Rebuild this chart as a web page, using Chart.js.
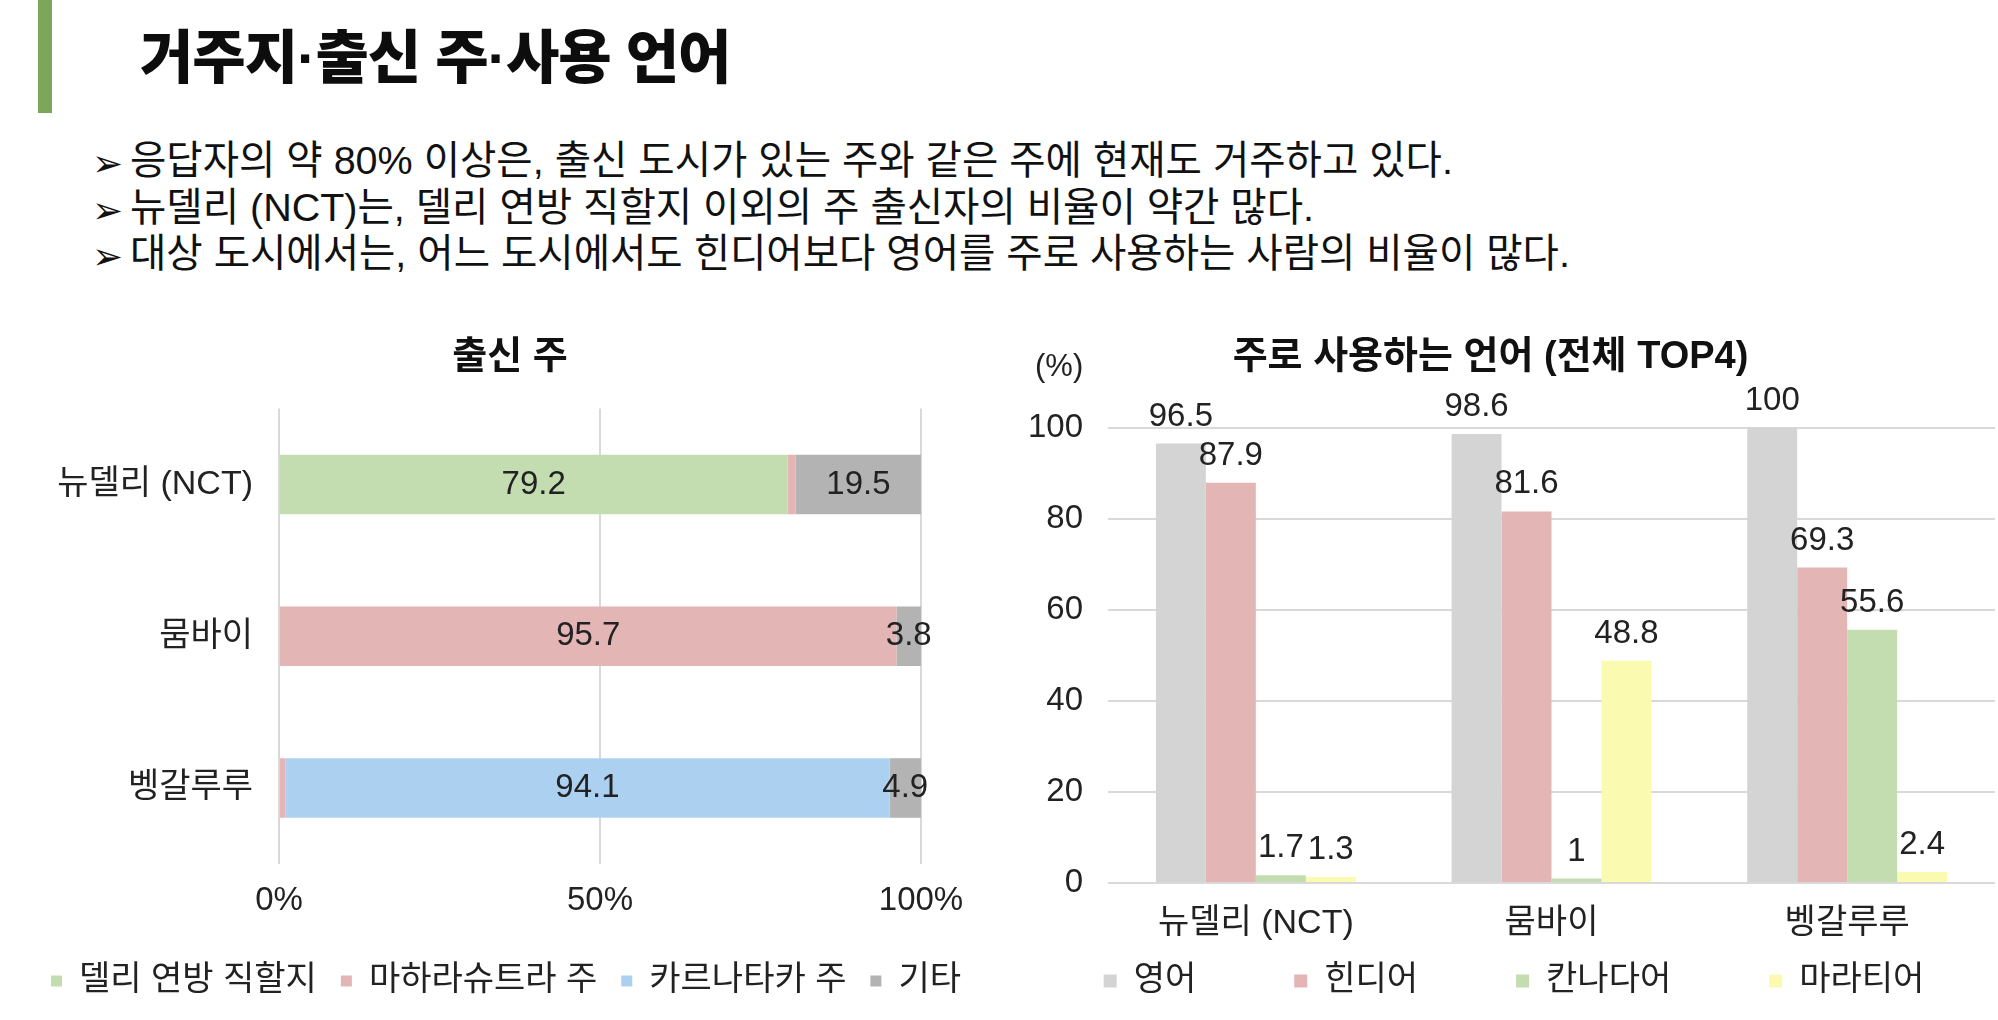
<!DOCTYPE html>
<html lang="ko">
<head>
<meta charset="utf-8">
<title>거주지·출신 주·사용 언어</title>
<script src="https://cdn.jsdelivr.net/npm/chart.js@4.4.1/dist/chart.umd.min.js"></script>
<style>
  html, body { margin:0; padding:0; background:#ffffff; }
  body { width:1998px; height:1020px; position:relative; overflow:hidden;
         font-family:'Liberation Sans','Noto Sans CJK KR',sans-serif; color:#111; }
  #accent { position:absolute; left:38px; top:0; width:14px; height:113px; background:#7da65a; }
  #pageTitle { position:absolute; left:140px; top:24px; margin:0; font-size:58px; line-height:68px;
               font-weight:900; letter-spacing:-1px; white-space:nowrap; color:#0d0d0d; }
  #notes { position:absolute; left:92px; top:137px; margin:0; padding:0; list-style:none;
           font-size:39.5px; line-height:46.5px; white-space:nowrap; color:#111; }
  #notes li::before { content:'➢'; display:inline-block; width:38px; font-family:'DejaVu Sans';
                      font-weight:bold; font-size:37px; line-height:0; vertical-align:-2px; }
  .chartBox { position:absolute; }
  #unit { position:absolute; left:1035px; top:348px; font-size:31px; line-height:36px; color:#222; }
</style>
</head>
<body>
<div id="accent"></div>
<h1 id="pageTitle">거주지·출신 주·사용 언어</h1>
<ul id="notes">
  <li>응답자의 약 80% 이상은, 출신 도시가 있는 주와 같은 주에 현재도 거주하고 있다.</li>
  <li>뉴델리 (NCT)는, 델리 연방 직할지 이외의 주 출신자의 비율이 약간 많다.</li>
  <li>대상 도시에서는, 어느 도시에서도 힌디어보다 영어를 주로 사용하는 사람의 비율이 많다.</li>
</ul>
<div class="chartBox" style="left:0px;top:300px;width:1020px;height:720px"><canvas id="originChart"></canvas></div>
<div class="chartBox" style="left:986px;top:300px;width:1012px;height:720px"><canvas id="langChart"></canvas></div>
<div id="unit">(%)</div>

<script>
// ---------- data: 출신 주 ----------
const originCities = ['뉴델리 (NCT)', '뭄바이', '벵갈루루'];
const originStates = ['델리 연방 직할지', '마하라슈트라 주', '카르나타카 주', '기타'];
const originDelhi  = [79.2, 0, 0];
const originMaha   = [1.3, 95.7, 1.0];
const originKarna  = [0, 0, 94.1];
const originOther  = [19.5, 3.8, 4.9];
const originTicks  = ['0%', '50%', '100%'];

// ---------- data: 주로 사용하는 언어 ----------
const langCities  = ['뉴델리 (NCT)', '뭄바이', '벵갈루루'];
const languages   = ['영어', '힌디어', '칸나다어', '마라티어'];
const langEnglish = [96.5, 98.6, 100];
const langHindi   = [87.9, 81.6, 69.3];
const langKannada = [1.7, 1, 55.6];
const langMarathi = [1.3, 48.8, 2.4];
const langTicks   = ['0', '20', '40', '60', '80', '100'];

const FONT = "'Liberation Sans','Noto Sans CJK KR',sans-serif";
Chart.defaults.font.family = FONT;
Chart.defaults.color = '#222';

// value labels drawn from the bar elements the library laid out
const barValueLabels = {
  id: 'barValueLabels',
  afterDatasetsDraw(chart) {
    const o = chart.options.plugins.barValueLabels;
    const ctx = chart.ctx;
    ctx.save();
    ctx.font = o.labelFont;
    ctx.fillStyle = o.color;
    ctx.textAlign = 'center';
    ctx.textBaseline = 'middle';
    chart.data.datasets.forEach((ds, di) => {
      const meta = chart.getDatasetMeta(di);
      const shown = ds.rawValues || ds.data;
      meta.data.forEach((el, i) => {
        const v = shown[i];
        if (v < o.minValue) return;
        let x, y;
        if (o.place === 'center') { const p = el.getCenterPoint(); x = p.x; y = p.y; }
        else { x = el.x; y = el.y - o.offset; }
        ctx.fillText(String(v), x, y);
      });
    });
    ctx.restore();
  }
};

// lets the legend keep wide item gaps on one short row, and shifts it sideways
const legendTweak = {
  id: 'legendTweak',
  afterInit(chart) {
    const lg = chart.legend;
    if (!lg || lg.$tweaked) return;
    lg.$tweaked = true;
    const fit0 = lg.fit, draw0 = lg.draw;
    lg.fit = function () {
      const o = chart.options.plugins.legendTweak;
      const mw = this.maxWidth;
      this.maxWidth = mw + 1000;
      fit0.call(this);
      this.maxWidth = mw;
      this.width = Math.min(this.width, mw);
      const pad = this.options.labels.padding;
      this.$cut = this.height > 0 ? Math.max(0, pad - o.rowGap) : 0;
      this.height -= this.$cut;
    };
    lg.draw = function () {
      const o = chart.options.plugins.legendTweak;
      const t = this.top, l = this.left, r = this.right;
      this.top = t - (this.$cut || 0);
      this.left = l + o.shift - 400;
      this.right = r + o.shift + 400;
      draw0.call(this);
      this.top = t; this.left = l; this.right = r;
    };
  }
};

const titleFont = { family: FONT, size: 38, weight: 'bold' };
const catFont = { family: FONT, size: 34 };
const numFont = { family: FONT, size: 33 };

// ---------- chart 1: 출신 주 (100% stacked horizontal bars) ----------
const originColors = ['#c3ddb0', '#e3b5b5', '#acd0f0', '#b3b3b3'];
const originSeries = [originDelhi, originMaha, originKarna, originOther];
const originTotals = originCities.map((_, i) => originSeries.reduce((s, arr) => s + arr[i], 0));
new Chart(document.getElementById('originChart'), {
  type: 'bar',
  data: {
    labels: originCities,
    datasets: originStates.map((name, k) => ({
      label: name,
      data: originSeries[k].map((v, i) => v / originTotals[i] * 100),
      rawValues: originSeries[k],
      backgroundColor: originColors[k],
      borderWidth: 0,
      barPercentage: 1,
      categoryPercentage: 0.392
    }))
  },
  options: {
    indexAxis: 'y',
    responsive: true,
    maintainAspectRatio: false,
    animation: false,
    layout: { padding: { left: 0, right: 0, top: 0, bottom: 12 } },
    scales: {
      x: {
        stacked: true, min: 0, max: 100,
        grid: { color: '#d9d9d9', lineWidth: 2, drawTicks: false },
        border: { display: false },
        ticks: { stepSize: 50, padding: 17, font: numFont, color: '#222',
                 callback: (v) => originTicks[v / 50] },
        afterFit(s) { s.height = 76; }
      },
      y: {
        stacked: true,
        grid: { display: false, drawTicks: false },
        border: { display: false },
        ticks: { padding: 26, font: catFont, color: '#222' },
        afterFit(s) { s.width = 279; }
      },
      yRight: {
        type: 'category', position: 'right', display: true,
        grid: { display: false, drawTicks: false },
        border: { display: false },
        ticks: { display: false },
        afterFit(s) { s.width = 99; }
      }
    },
    plugins: {
      title: { display: true, text: '출신 주', font: titleFont, color: '#111',
               padding: { top: 35, bottom: 28 } },
      legend: {
        position: 'bottom',
        labels: { boxWidth: 11, boxHeight: 11, padding: 24, font: catFont, color: '#222' }
      },
      tooltip: { enabled: false },
      legendTweak: { rowGap: 24, shift: -4 },
      barValueLabels: { labelFont: "33px 'Liberation Sans','Noto Sans CJK KR',sans-serif",
                        color: '#222', minValue: 3, place: 'center', offset: 0 }
    }
  },
  plugins: [legendTweak, barValueLabels]
});

// ---------- chart 2: 주로 사용하는 언어 (grouped bars) ----------
const langColors = ['#d4d4d4', '#e3b5b5', '#c3ddb0', '#fafab0'];
const langSeries = [langEnglish, langHindi, langKannada, langMarathi];
new Chart(document.getElementById('langChart'), {
  type: 'bar',
  data: {
    labels: langCities,
    datasets: languages.map((name, k) => ({
      label: name,
      data: langSeries[k],
      backgroundColor: langColors[k],
      borderWidth: 0,
      barPercentage: 1,
      categoryPercentage: 0.676
    }))
  },
  options: {
    responsive: true,
    maintainAspectRatio: false,
    animation: false,
    layout: { padding: { left: 0, right: 3, top: 0, bottom: 12 } },
    scales: {
      x: {
        grid: { display: false, drawTicks: false },
        border: { display: false },
        ticks: { padding: 20, font: catFont, color: '#222' },
        afterFit(s) { s.height = 71; }
      },
      y: {
        min: 0, max: 100,
        grid: { color: '#d9d9d9', lineWidth: 2, drawTicks: false },
        border: { display: false },
        ticks: { stepSize: 20, padding: 25, font: numFont, color: '#222',
                 callback: (v) => langTicks[v / 20] },
        afterFit(s) { s.width = 122; }
      }
    },
    plugins: {
      title: { display: true, text: '주로 사용하는 언어 (전체 TOP4)', font: titleFont, color: '#111',
               padding: { top: 35, bottom: 47 } },
      legend: {
        position: 'bottom',
        labels: { boxWidth: 13, boxHeight: 13, padding: 98, font: catFont, color: '#222' }
      },
      tooltip: { enabled: false },
      legendTweak: { rowGap: 10, shift: 23.5 },
      barValueLabels: { labelFont: "33px 'Liberation Sans','Noto Sans CJK KR',sans-serif",
                        color: '#222', minValue: 0, place: 'top', offset: 27 }
    }
  },
  plugins: [legendTweak, barValueLabels]
});
</script>
</body>
</html>
